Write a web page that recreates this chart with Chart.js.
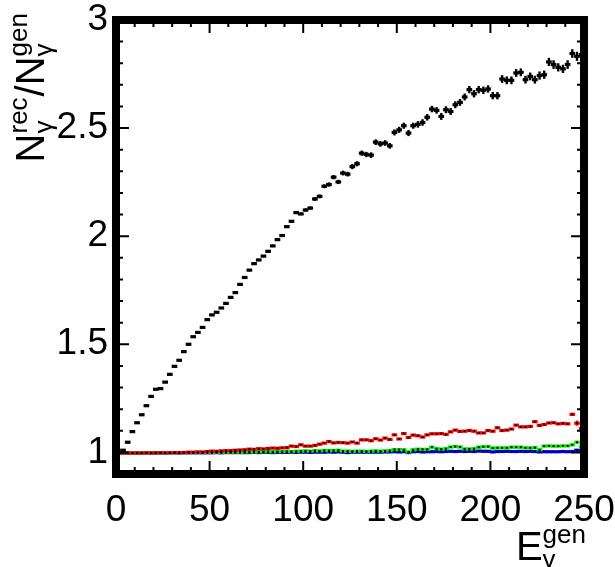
<!DOCTYPE html>
<html>
<head>
<meta charset="utf-8">
<script src="https://cdn.jsdelivr.net/npm/chart.js@4.4.0/dist/chart.umd.min.js"></script>
<style>
  html, body { margin: 0; padding: 0; background: #fff; }
  #wrap { width: 615px; height: 567px; }
</style>
</head>
<body>
<div id="wrap"><canvas id="chart" width="615" height="567"></canvas></div>
<script>
// === Data ===
const binCenters = [
  1.25, 3.75, 6.25, 8.75, 11.25, 13.75, 16.25, 18.75, 21.25, 23.75,
  26.25, 28.75, 31.25, 33.75, 36.25, 38.75, 41.25, 43.75, 46.25, 48.75,
  51.25, 53.75, 56.25, 58.75, 61.25, 63.75, 66.25, 68.75, 71.25, 73.75,
  76.25, 78.75, 81.25, 83.75, 86.25, 88.75, 91.25, 93.75, 96.25, 98.75,
  101.25, 103.75, 106.25, 108.75, 111.25, 113.75, 116.25, 118.75, 121.25, 123.75,
  126.25, 128.75, 131.25, 133.75, 136.25, 138.75, 141.25, 143.75, 146.25, 148.75,
  151.25, 153.75, 156.25, 158.75, 161.25, 163.75, 166.25, 168.75, 171.25, 173.75,
  176.25, 178.75, 181.25, 183.75, 186.25, 188.75, 191.25, 193.75, 196.25, 198.75,
  201.25, 203.75, 206.25, 208.75, 211.25, 213.75, 216.25, 218.75, 221.25, 223.75,
  226.25, 228.75, 231.25, 233.75, 236.25, 238.75, 241.25, 243.75, 246.25, 248.75
];
const binHalfWidth = 1.25;

const ratioBlack = [
  1.000, 1.010, 1.047, 1.096, 1.137, 1.174, 1.216, 1.259, 1.292, 1.295,
  1.325, 1.361, 1.398, 1.426, 1.466, 1.500, 1.535, 1.555, 1.578, 1.614,
  1.636, 1.648, 1.668, 1.689, 1.717, 1.739, 1.777, 1.809, 1.843, 1.873,
  1.890, 1.908, 1.930, 1.955, 1.984, 2.003, 2.044, 2.069, 2.109, 2.103,
  2.121, 2.130, 2.172, 2.184, 2.231, 2.239, 2.273, 2.251, 2.292, 2.287,
  2.322, 2.335, 2.384, 2.378, 2.375, 2.435, 2.427, 2.431, 2.418, 2.480,
  2.492, 2.511, 2.477, 2.511, 2.517, 2.526, 2.550, 2.588, 2.582, 2.554,
  2.585, 2.577, 2.608, 2.619, 2.644, 2.678, 2.659, 2.678, 2.675, 2.681,
  2.650, 2.650, 2.727, 2.721, 2.721, 2.755, 2.758, 2.724, 2.739, 2.724,
  2.743, 2.747, 2.806, 2.794, 2.781, 2.774, 2.794, 2.845, 2.832, 2.840
];
const errBlack = [
  0.002, 0.002, 0.002, 0.002, 0.002, 0.002, 0.002, 0.002, 0.002, 0.002,
  0.002, 0.002, 0.002, 0.002, 0.002, 0.002, 0.002, 0.002, 0.002, 0.002,
  0.003, 0.003, 0.003, 0.003, 0.003, 0.003, 0.003, 0.003, 0.003, 0.003,
  0.005, 0.005, 0.005, 0.005, 0.005, 0.005, 0.005, 0.005, 0.006, 0.006,
  0.008, 0.008, 0.009, 0.009, 0.009, 0.010, 0.010, 0.010, 0.011, 0.011,
  0.012, 0.012, 0.012, 0.012, 0.013, 0.013, 0.013, 0.013, 0.013, 0.014,
  0.014, 0.014, 0.014, 0.014, 0.015, 0.015, 0.015, 0.015, 0.015, 0.016,
  0.016, 0.016, 0.016, 0.016, 0.016, 0.017, 0.017, 0.017, 0.017, 0.017,
  0.017, 0.017, 0.018, 0.018, 0.018, 0.018, 0.018, 0.018, 0.018, 0.018,
  0.019, 0.019, 0.019, 0.020, 0.019, 0.019, 0.020, 0.020, 0.021, 0.050
];

const ratioRed = [
  0.998, 0.997, 0.997, 0.997, 0.997, 0.997, 0.998, 0.997, 0.998, 0.998,
  0.998, 0.998, 0.999, 0.999, 0.999, 1.001, 1.001, 1.002, 1.002, 1.004,
  1.006, 1.005, 1.007, 1.008, 1.008, 1.010, 1.011, 1.012, 1.015, 1.014,
  1.017, 1.016, 1.018, 1.020, 1.019, 1.021, 1.022, 1.029, 1.027, 1.035,
  1.029, 1.029, 1.032, 1.038, 1.043, 1.050, 1.044, 1.046, 1.045, 1.043,
  1.048, 1.043, 1.058, 1.058, 1.054, 1.063, 1.057, 1.066, 1.060, 1.081,
  1.062, 1.087, 1.069, 1.080, 1.077, 1.071, 1.081, 1.086, 1.086, 1.087,
  1.083, 1.095, 1.103, 1.097, 1.098, 1.101, 1.098, 1.090, 1.090, 1.101,
  1.098, 1.114, 1.101, 1.103, 1.108, 1.126, 1.118, 1.118, 1.120, 1.142,
  1.125, 1.129, 1.136, 1.137, 1.132, 1.134, 1.132, 1.176, 1.135, 1.110
];
const errRed = [
  0.001, 0.001, 0.001, 0.001, 0.001, 0.001, 0.001, 0.001, 0.001, 0.001,
  0.001, 0.001, 0.001, 0.001, 0.001, 0.001, 0.001, 0.001, 0.001, 0.001,
  0.001, 0.001, 0.001, 0.001, 0.001, 0.001, 0.001, 0.001, 0.001, 0.001,
  0.002, 0.002, 0.002, 0.002, 0.002, 0.002, 0.002, 0.002, 0.002, 0.002,
  0.002, 0.002, 0.002, 0.002, 0.002, 0.002, 0.002, 0.002, 0.002, 0.002,
  0.002, 0.002, 0.002, 0.002, 0.002, 0.002, 0.002, 0.002, 0.002, 0.002,
  0.003, 0.003, 0.003, 0.003, 0.003, 0.003, 0.003, 0.003, 0.003, 0.003,
  0.003, 0.003, 0.003, 0.003, 0.003, 0.003, 0.003, 0.003, 0.003, 0.003,
  0.003, 0.003, 0.003, 0.003, 0.003, 0.003, 0.003, 0.003, 0.003, 0.004,
  0.004, 0.004, 0.004, 0.004, 0.004, 0.004, 0.004, 0.006, 0.012, 0.022
];

const ratioGreen = [
  0.998, 0.997, 0.998, 0.997, 0.998, 0.998, 0.997, 0.998, 0.998, 0.998,
  0.998, 0.998, 0.999, 0.998, 0.999, 0.999, 0.999, 1.000, 0.999, 1.000,
  1.000, 1.001, 1.000, 1.001, 1.001, 1.002, 1.001, 1.002, 1.003, 1.002,
  1.003, 1.003, 1.004, 1.003, 1.004, 1.004, 1.005, 1.004, 1.005, 1.006,
  1.007, 1.006, 1.008, 1.007, 1.009, 1.008, 1.009, 1.010, 1.006, 1.006,
  1.005, 1.006, 1.006, 1.005, 1.006, 1.007, 1.006, 1.007, 1.008, 1.013,
  1.013, 1.012, 1.002, 1.012, 1.015, 1.014, 1.014, 1.024, 1.017, 1.015,
  1.017, 1.025, 1.027, 1.025, 1.016, 1.016, 1.017, 1.024, 1.026, 1.027,
  1.020, 1.021, 1.021, 1.021, 1.024, 1.024, 1.024, 1.021, 1.021, 1.022,
  1.012, 1.029, 1.030, 1.029, 1.029, 1.030, 1.030, 1.035, 1.047, 1.026
];
const errGreen = [
  0.001, 0.001, 0.001, 0.001, 0.001, 0.001, 0.001, 0.001, 0.001, 0.001,
  0.001, 0.001, 0.001, 0.001, 0.001, 0.001, 0.001, 0.001, 0.001, 0.001,
  0.001, 0.001, 0.001, 0.001, 0.001, 0.001, 0.001, 0.001, 0.001, 0.001,
  0.001, 0.001, 0.001, 0.001, 0.001, 0.001, 0.001, 0.001, 0.001, 0.001,
  0.001, 0.001, 0.001, 0.001, 0.001, 0.001, 0.001, 0.001, 0.001, 0.001,
  0.002, 0.002, 0.002, 0.002, 0.002, 0.002, 0.002, 0.002, 0.002, 0.002,
  0.002, 0.002, 0.002, 0.002, 0.002, 0.002, 0.002, 0.002, 0.002, 0.002,
  0.002, 0.002, 0.002, 0.002, 0.002, 0.002, 0.002, 0.002, 0.002, 0.002,
  0.002, 0.002, 0.002, 0.002, 0.002, 0.002, 0.002, 0.002, 0.002, 0.002,
  0.002, 0.002, 0.002, 0.002, 0.002, 0.003, 0.003, 0.003, 0.006, 0.010
];

const ratioBlue = [
  0.997, 0.997, 0.997, 0.997, 0.997, 0.997, 0.997, 0.997, 0.997, 0.998,
  0.997, 0.998, 0.998, 0.997, 0.998, 0.998, 0.998, 0.998, 0.998, 0.998,
  0.998, 0.999, 0.998, 0.999, 0.999, 0.999, 0.999, 0.999, 0.999, 1.000,
  0.999, 1.000, 1.000, 0.999, 1.000, 1.000, 1.000, 1.001, 1.000, 1.001,
  1.001, 1.000, 1.001, 1.001, 1.001, 1.002, 1.001, 1.002, 1.001, 0.999,
  1.001, 1.001, 1.001, 1.001, 1.001, 1.001, 1.001, 1.002, 1.002, 1.003,
  1.002, 1.003, 0.999, 1.003, 1.004, 1.002, 1.003, 1.003, 1.004, 1.003,
  1.004, 1.005, 1.004, 1.005, 1.004, 1.005, 1.004, 1.006, 1.005, 1.005,
  1.002, 1.004, 1.004, 1.005, 1.004, 1.004, 1.005, 1.004, 1.005, 1.004,
  1.002, 1.003, 1.003, 1.003, 1.003, 1.004, 1.003, 1.004, 1.010, 1.008
];
const errBlue = [
  0.001, 0.001, 0.001, 0.001, 0.001, 0.001, 0.001, 0.001, 0.001, 0.001,
  0.001, 0.001, 0.001, 0.001, 0.001, 0.001, 0.001, 0.001, 0.001, 0.001,
  0.001, 0.001, 0.001, 0.001, 0.001, 0.001, 0.001, 0.001, 0.001, 0.001,
  0.001, 0.001, 0.001, 0.001, 0.001, 0.001, 0.001, 0.001, 0.001, 0.001,
  0.001, 0.001, 0.001, 0.001, 0.001, 0.001, 0.001, 0.001, 0.001, 0.001,
  0.001, 0.001, 0.001, 0.001, 0.001, 0.001, 0.001, 0.001, 0.001, 0.001,
  0.001, 0.001, 0.001, 0.001, 0.001, 0.001, 0.001, 0.001, 0.001, 0.001,
  0.001, 0.001, 0.001, 0.001, 0.001, 0.001, 0.001, 0.001, 0.001, 0.001,
  0.001, 0.001, 0.001, 0.001, 0.001, 0.001, 0.001, 0.001, 0.001, 0.001,
  0.001, 0.001, 0.001, 0.001, 0.001, 0.002, 0.002, 0.002, 0.005, 0.004
];

const xTickValues = [0, 50, 100, 150, 200, 250];
const yTickValues = [1, 1.5, 2, 2.5, 3];
const xTickLabels = ["0", "50", "100", "150", "200", "250"];
const yTickLabels = ["1", "1.5", "2", "2.5", "3"];

// === Helpers ===
const FONT = '"Liberation Sans", Arial, Helvetica, sans-serif';

function toPoints(values) {
  return values.map((v, i) => ({ x: binCenters[i], y: v }));
}

function makeSet(values, errors, color) {
  return {
    data: toPoints(values),
    errors: errors,
    barColor: color,
    showLine: false,
    pointStyle: "rect",
    pointRadius: 1.4,
    pointBackgroundColor: "#000",
    pointBorderWidth: 0
  };
}

// draws ROOT-like text with stacked super/subscripts, right end at u = 0
function drawScripted(ctx, pieces, size, smallSize) {
  const big = size + "px " + FONT;
  const small = smallSize + "px " + FONT;
  const widths = pieces.map(p => {
    if (p.main) { ctx.font = big; return ctx.measureText(p.main).width; }
    ctx.font = small;
    return Math.max(ctx.measureText(p.sup).width, ctx.measureText(p.sub).width) + 1;
  });
  const total = widths.reduce((a, b) => a + b, 0);
  let u = -total;
  pieces.forEach((p, i) => {
    if (p.main) {
      ctx.font = big;
      ctx.fillText(p.main, u, 0);
    } else {
      ctx.font = small;
      ctx.fillText(p.sup, u, -size * 0.42);
      ctx.fillText(p.sub, u, size * 0.2);
    }
    u += widths[i];
  });
}

// === Error bars (drawn through the chart scales) ===
const errorBarPlugin = {
  id: "errorBars",
  beforeDatasetsDraw(chart) {
    const ctx = chart.ctx;
    const xs = chart.scales.x;
    const ys = chart.scales.y;
    const a = chart.chartArea;
    ctx.save();
    ctx.beginPath();
    ctx.rect(a.left, a.top, a.right - a.left, a.bottom - a.top);
    ctx.clip();
    chart.data.datasets.forEach(ds => {
      ctx.strokeStyle = ds.barColor;
      ds.data.forEach((p, i) => {
        const cx = xs.getPixelForValue(p.x);
        const cy = ys.getPixelForValue(p.y);
        const xl = xs.getPixelForValue(p.x - binHalfWidth);
        const xr = xs.getPixelForValue(p.x + binHalfWidth);
        const yt = ys.getPixelForValue(p.y + ds.errors[i]);
        const yb = ys.getPixelForValue(p.y - ds.errors[i]);
        ctx.lineWidth = 3.2;
        ctx.beginPath();
        ctx.moveTo(xl - 0.5, cy);
        ctx.lineTo(xr + 0.5, cy);
        ctx.stroke();
        ctx.lineWidth = 2.4;
        ctx.beginPath();
        ctx.moveTo(cx, yt);
        ctx.lineTo(cx, yb);
        ctx.stroke();
      });
    });
    ctx.restore();
  }
};

// === Frame, inner ticks and axis titles ===
const framePlugin = {
  id: "rootFrame",
  afterDraw(chart) {
    const ctx = chart.ctx;
    const xs = chart.scales.x;
    const ys = chart.scales.y;
    const a = chart.chartArea;
    ctx.save();
    ctx.strokeStyle = "#000";
    ctx.lineWidth = 2;

    // x ticks (bottom + top)
    for (let v = 0; v <= 250; v += 10) {
      const px = xs.getPixelForValue(v);
      const len = v % 50 === 0 ? 13 : 7;
      ctx.beginPath();
      ctx.moveTo(px, a.bottom); ctx.lineTo(px, a.bottom - len);
      ctx.moveTo(px, a.top); ctx.lineTo(px, a.top + len);
      ctx.stroke();
    }
    // y ticks (left + right)
    for (let k = 10; k <= 30; k++) {
      const py = ys.getPixelForValue(k / 10);
      const len = k % 5 === 0 ? 13 : 7;
      ctx.beginPath();
      ctx.moveTo(a.left, py); ctx.lineTo(a.left + len, py);
      ctx.moveTo(a.right, py); ctx.lineTo(a.right - len, py);
      ctx.stroke();
    }

    // thick frame
    ctx.lineWidth = 8;
    ctx.strokeRect(a.left, a.top, a.right - a.left, a.bottom - a.top);

    ctx.fillStyle = "#000";
    ctx.textBaseline = "alphabetic";
    ctx.textAlign = "left";

    // y title, rotated, ending at the top of the axis
    ctx.save();
    ctx.translate(44, 12);
    ctx.rotate(-Math.PI / 2);
    drawScripted(ctx, [
      { main: "N" }, { sup: "rec", sub: "\u03b3" },
      { main: "/N" }, { sup: "gen", sub: "\u03b3" }
    ], 40, 26);
    ctx.restore();

    // x title, ending at the right end of the axis
    ctx.save();
    ctx.translate(587, 560);
    drawScripted(ctx, [{ main: "E" }, { sup: "gen", sub: "\u03b3" }], 40, 26);
    ctx.restore();

    ctx.restore();
  }
};

// === Chart ===
const tickFont = { family: FONT, size: 37 };
const ctx = document.getElementById("chart").getContext("2d");
new Chart(ctx, {
  type: "scatter",
  data: {
    datasets: [
      makeSet(ratioBlue, errBlue, "#0000ff"),
      makeSet(ratioGreen, errGreen, "#00ee00"),
      makeSet(ratioRed, errRed, "#ff0000"),
      makeSet(ratioBlack, errBlack, "#000000")
    ]
  },
  options: {
    responsive: false,
    animation: false,
    layout: { padding: { top: 20, right: 31, left: 0, bottom: 0 } },
    plugins: { legend: { display: false }, tooltip: { enabled: false } },
    scales: {
      x: {
        type: "linear",
        min: 0,
        max: 250,
        grid: { display: false, drawTicks: false },
        border: { display: false },
        afterFit: s => {
          s.height = 93;
          s.paddingLeft = 0;
          s.paddingRight = 0;
        },
        afterBuildTicks: s => { s.ticks = xTickValues.map(v => ({ value: v })); },
        ticks: {
          font: tickFont,
          color: "#000",
          padding: 15,
          maxRotation: 0,
          autoSkip: false,
          callback: (v) => xTickLabels[xTickValues.indexOf(v)]
        }
      },
      y: {
        type: "linear",
        min: 0.9,
        max: 3,
        grid: { display: false, drawTicks: false },
        border: { display: false },
        afterFit: s => {
          s.width = 116;
          s.paddingTop = 0;
          s.paddingBottom = 0;
        },
        afterBuildTicks: s => { s.ticks = yTickValues.map(v => ({ value: v })); },
        ticks: {
          font: tickFont,
          color: "#000",
          padding: 8,
          autoSkip: false,
          callback: (v) => yTickLabels[yTickValues.indexOf(v)]
        }
      }
    }
  },
  plugins: [errorBarPlugin, framePlugin]
});
</script>
</body>
</html>
